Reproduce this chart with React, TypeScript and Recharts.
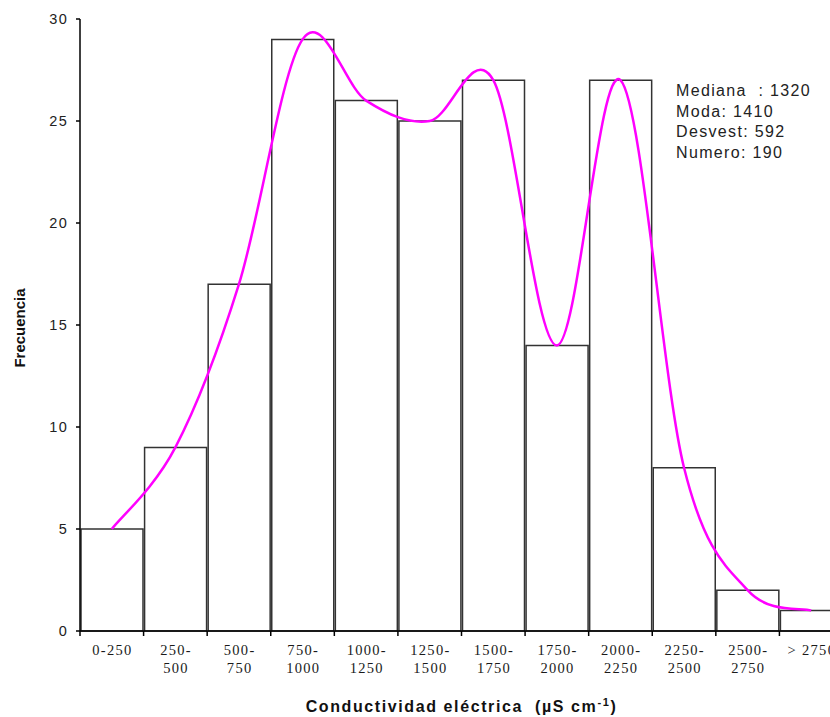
import { ComposedChart, Bar, Line, XAxis, YAxis } from "recharts";

// Conductivity classes (µS cm-1), "\n" splits the two-line tick labels
const categories = [
  "0-250",
  "250-\n500",
  "500-\n750",
  "750-\n1000",
  "1000-\n1250",
  "1250-\n1500",
  "1500-\n1750",
  "1750-\n2000",
  "2000-\n2250",
  "2250-\n2500",
  "2500-\n2750",
  "> 2750",
];
const frequencies = [5, 9, 17, 29, 26, 25, 27, 14, 27, 8, 2, 1];
const yTicks = [0, 5, 10, 15, 20, 25, 30];
const stats = ["Mediana  : 1320", "Moda: 1410", "Desvest: 592", "Numero: 190"];

const data = categories.map((cat, i) => ({ cat, freq: frequencies[i] }));

const CHART_W = 850;
const CHART_H = 717;
const Y_AXIS_W = 80;
const RIGHT_MARGIN = 7;
const BAND = (CHART_W - Y_AXIS_W - RIGHT_MARGIN) / categories.length;

// Excel-style smoothed line (uniform Catmull-Rom as cubic beziers)
function excelSmooth(context: any) {
  let pts: [number, number][] = [];
  return {
    areaStart() {},
    areaEnd() {},
    lineStart() {
      pts = [];
    },
    point(x: number, y: number) {
      pts.push([+x, +y]);
    },
    lineEnd() {
      if (!pts.length) return;
      context.moveTo(pts[0][0], pts[0][1]);
      for (let i = 0; i < pts.length - 1; i++) {
        const p0 = pts[i - 1] || pts[i];
        const p1 = pts[i];
        const p2 = pts[i + 1];
        const p3 = pts[i + 2] || pts[i + 1];
        context.bezierCurveTo(
          p1[0] + (p2[0] - p0[0]) / 6,
          p1[1] + (p2[1] - p0[1]) / 6,
          p2[0] - (p3[0] - p1[0]) / 6,
          p2[1] - (p3[1] - p1[1]) / 6,
          p2[0],
          p2[1]
        );
      }
    },
  };
}

const XTick = (props: any) => {
  const { x, y, payload } = props;
  const lines = String(payload.value).split("\n");
  const bx = x - BAND / 2;
  return (
    <g>
      <line x1={bx} x2={bx} y1={y} y2={y + 5} stroke="#000" strokeWidth={1.5} />
      <text
        x={x}
        y={y}
        textAnchor="middle"
        fontFamily="'Liberation Serif', 'Times New Roman', serif"
        fontSize={14.5}
        letterSpacing={1.3}
        fill="#1a1a1a"
      >
        {lines.map((l, i) => (
          <tspan key={i} x={x + 0.7} y={y + 24 + i * 18}>
            {l}
          </tspan>
        ))}
      </text>
    </g>
  );
};

const XTitle = (props: any) => {
  const vb = props.viewBox || {};
  const cx = vb.x + vb.width / 2;
  return (
    <text
      x={cx}
      y={712}
      textAnchor="middle"
      fontFamily="'Liberation Sans', Arial, sans-serif"
      fontWeight="bold"
      fontSize={16}
      letterSpacing={1.6}
      fill="#111"
      style={{ whiteSpace: "pre" }}
    >
      {"Conductividad eléctrica  (µS cm"}
      <tspan fontSize={11} dy={-6}>
        -1
      </tspan>
      <tspan dy={6}>)</tspan>
    </text>
  );
};

const YTitle = () => (
  <text
    x={25}
    y={328}
    transform="rotate(-90 25 328)"
    textAnchor="middle"
    fontFamily="'Liberation Sans', Arial, sans-serif"
    fontWeight="bold"
    fontSize={15}
    fill="#111"
  >
    Frecuencia
  </text>
);

export default function App() {
  return (
    <div
      style={{
        position: "absolute",
        left: 0,
        top: 0,
        width: 830,
        height: 717,
        overflow: "hidden",
        background: "#fff",
      }}
    >
      <ComposedChart
        width={CHART_W}
        height={CHART_H}
        data={data}
        margin={{ top: 19, right: RIGHT_MARGIN, left: 0, bottom: 0 }}
        barCategoryGap={1}
      >
        <XAxis
          dataKey="cat"
          height={86}
          interval={0}
          tickSize={0}
          tickMargin={0}
          tickLine={false}
          axisLine={{ stroke: "#000", strokeWidth: 1.5 }}
          tick={<XTick />}
          label={(p: any) => <XTitle {...p} />}
        />
        <XAxis
          xAxisId="top"
          dataKey="cat"
          orientation="top"
          height={0}
          tick={false}
          tickLine={false}
          axisLine={{ stroke: "#000", strokeWidth: 1.5 }}
        />
        <YAxis
          width={Y_AXIS_W}
          domain={[0, 30]}
          ticks={yTicks}
          interval={0}
          tickSize={4}
          tickMargin={8}
          axisLine={{ stroke: "#000", strokeWidth: 1.5 }}
          tickLine={{ stroke: "#000", strokeWidth: 1.5 }}
          tick={{
            fill: "#222",
            fontSize: 14.5,
            fontFamily: "'Liberation Sans', Arial, sans-serif",
            letterSpacing: 1.3,
          }}
          label={() => <YTitle />}
        />
        <Bar
          dataKey="freq"
          fill="#fff"
          stroke="#333"
          strokeWidth={1.5}
          isAnimationActive={false}
        />
        <Line
          dataKey="freq"
          type={excelSmooth as any}
          stroke="#ff00ff"
          strokeWidth={2.5}
          dot={false}
          activeDot={false}
          isAnimationActive={false}
        />
      </ComposedChart>
      <div
        style={{
          position: "absolute",
          left: 676,
          top: 81,
          fontFamily: "'Liberation Sans', Arial, sans-serif",
          fontSize: 16,
          lineHeight: "20.7px",
          letterSpacing: 1.35,
          color: "#222",
          whiteSpace: "pre",
        }}
      >
        {stats.map((s) => (
          <div key={s}>{s}</div>
        ))}
      </div>
    </div>
  );
}
